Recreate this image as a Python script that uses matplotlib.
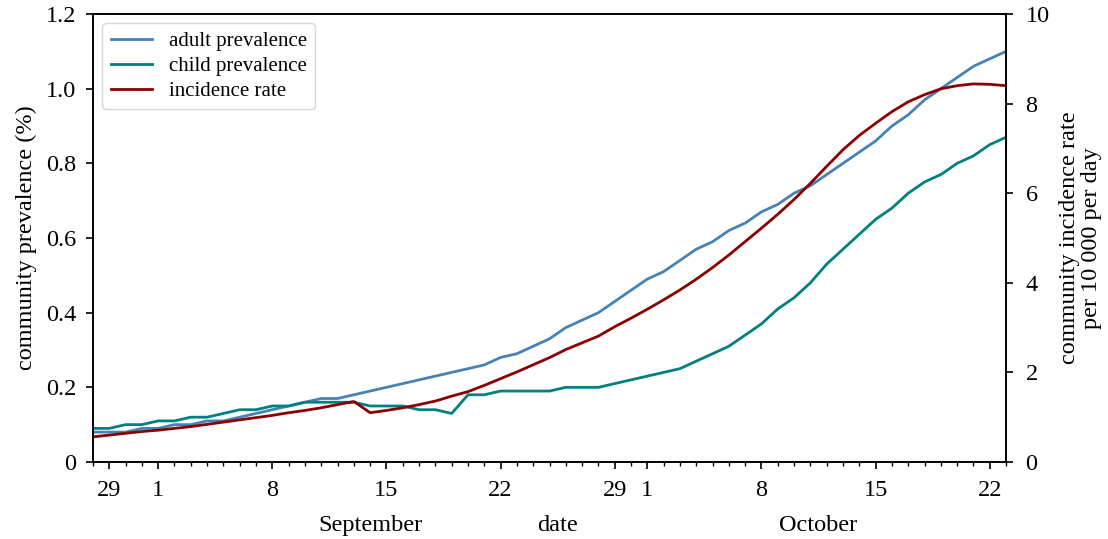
import matplotlib
matplotlib.use("Agg")
import matplotlib.pyplot as plt
import matplotlib.dates as mdates
import pandas as pd

plt.rcParams['font.family'] = ['Liberation Serif', 'DejaVu Serif']
plt.rcParams['mathtext.fontset'] = 'stix'

start_date = "2020-08-28"
end_date = "2020-10-23"

adult_prevalence = [0.08, 0.08, 0.08, 0.09, 0.09, 0.10, 0.10, 0.11, 0.11, 0.12,
                    0.13, 0.14, 0.15, 0.16, 0.17, 0.17, 0.18, 0.19, 0.20, 0.21,
                    0.22, 0.23, 0.24, 0.25, 0.26, 0.28, 0.29, 0.31, 0.33, 0.36,
                    0.38, 0.40, 0.43, 0.46, 0.49, 0.51, 0.54, 0.57, 0.59, 0.62,
                    0.64, 0.67, 0.69, 0.72, 0.74, 0.77, 0.80, 0.83, 0.86, 0.90,
                    0.93, 0.97, 1.00, 1.03, 1.06, 1.08, 1.10]

child_prevalence = [0.09, 0.09, 0.10, 0.10, 0.11, 0.11, 0.12, 0.12, 0.13, 0.14,
                    0.14, 0.15, 0.15, 0.16, 0.16, 0.16, 0.16, 0.15, 0.15, 0.15,
                    0.14, 0.14, 0.13, 0.18, 0.18, 0.19, 0.19, 0.19, 0.19, 0.20,
                    0.20, 0.20, 0.21, 0.22, 0.23, 0.24, 0.25, 0.27, 0.29, 0.31,
                    0.34, 0.37, 0.41, 0.44, 0.48, 0.53, 0.57, 0.61, 0.65, 0.68,
                    0.72, 0.75, 0.77, 0.80, 0.82, 0.85, 0.87]

incidence_rate = [0.56, 0.60, 0.64, 0.68, 0.71, 0.75, 0.79, 0.84, 0.89, 0.94,
                  0.99, 1.04, 1.10, 1.15, 1.21, 1.28, 1.35, 1.10, 1.15, 1.21,
                  1.28, 1.36, 1.47, 1.57, 1.71, 1.86, 2.01, 2.17, 2.33, 2.51,
                  2.66, 2.81, 3.02, 3.21, 3.41, 3.62, 3.84, 4.08, 4.34, 4.62,
                  4.92, 5.22, 5.53, 5.86, 6.22, 6.60, 6.97, 7.29, 7.56, 7.82,
                  8.04, 8.20, 8.33, 8.40, 8.44, 8.43, 8.40]

major_tick_dates = ["2020-08-29", "2020-09-01", "2020-09-08", "2020-09-15",
                    "2020-09-22", "2020-09-29", "2020-10-01", "2020-10-08",
                    "2020-10-15", "2020-10-22"]
major_tick_labels = ["29", "1", "8", "15", "22", "29", "1", "8", "15", "22"]

left_ticks = [0, 0.2, 0.4, 0.6, 0.8, 1.0, 1.2]
left_tick_labels = ["0", "0.2", "0.4", "0.6", "0.8", "1.0", "1.2"]
right_ticks = [0, 2, 4, 6, 8, 10]

month_labels = ["September", "date", "October"]
month_label_dates = ["2020-09-14 00:00", "2020-09-25 12:00", "2020-10-11 12:00"]

dates = pd.date_range(start_date, end_date, freq="D")

fig = plt.figure(figsize=(11.08, 5.39), dpi=100)
ax = fig.add_axes([0.0839, 0.1429, 0.908 - 0.0839, 0.974 - 0.1429])
ax2 = ax.twinx()

l1, = ax.plot(dates, adult_prevalence, color="#4682B4", lw=2.0, label="adult prevalence")
l2, = ax.plot(dates, child_prevalence, color="#008080", lw=2.0, label="child prevalence")
l3, = ax2.plot(dates, incidence_rate, color="#8B0000", lw=2.0, label="incidence rate")

ax.set_xlim(pd.Timestamp(start_date), pd.Timestamp(end_date))
ax.set_ylim(0, 1.2)
ax2.set_ylim(0, 10)
ax.set_yticks(left_ticks)
ax.set_yticklabels(left_tick_labels)
ax2.set_yticks(right_ticks)
ax2.set_yticklabels([str(v) for v in right_ticks])

ax.set_xticks([pd.Timestamp(d) for d in major_tick_dates])
ax.set_xticklabels(major_tick_labels)
ax.xaxis.set_minor_locator(mdates.DayLocator())

FS = 17.5
for a in (ax, ax2):
    a.tick_params(axis='both', which='major', direction='out', length=5, width=1.2,
                  labelsize=FS)
    a.tick_params(axis='both', which='minor', direction='out', length=3, width=1.0)
    for s in a.spines.values():
        s.set_linewidth(1.2)
ax.tick_params(axis='x', which='major', pad=8)
ax.tick_params(axis='y', which='major', pad=7)
ax2.tick_params(axis='y', which='major', pad=9)

ax.set_ylabel("community prevalence (%)", fontsize=FS, labelpad=6)
ax2.set_ylabel("community incidence rate\nper 10 000 per day", fontsize=FS, labelpad=7,
               linespacing=1.05)

for lab, d in zip(month_labels, month_label_dates):
    ax.text(pd.Timestamp(d), -0.141, lab, transform=ax.get_xaxis_transform(),
            ha="center", va="center", fontsize=FS)

leg = ax.legend(handles=[l1, l2, l3], loc="upper left", fontsize=15,
                frameon=True, fancybox=True, handlelength=2.0, borderaxespad=0.45,
                labelspacing=0.25, handletextpad=0.8)
leg.get_frame().set_edgecolor("#cccccc")

fig.savefig("out.png", dpi=100)
